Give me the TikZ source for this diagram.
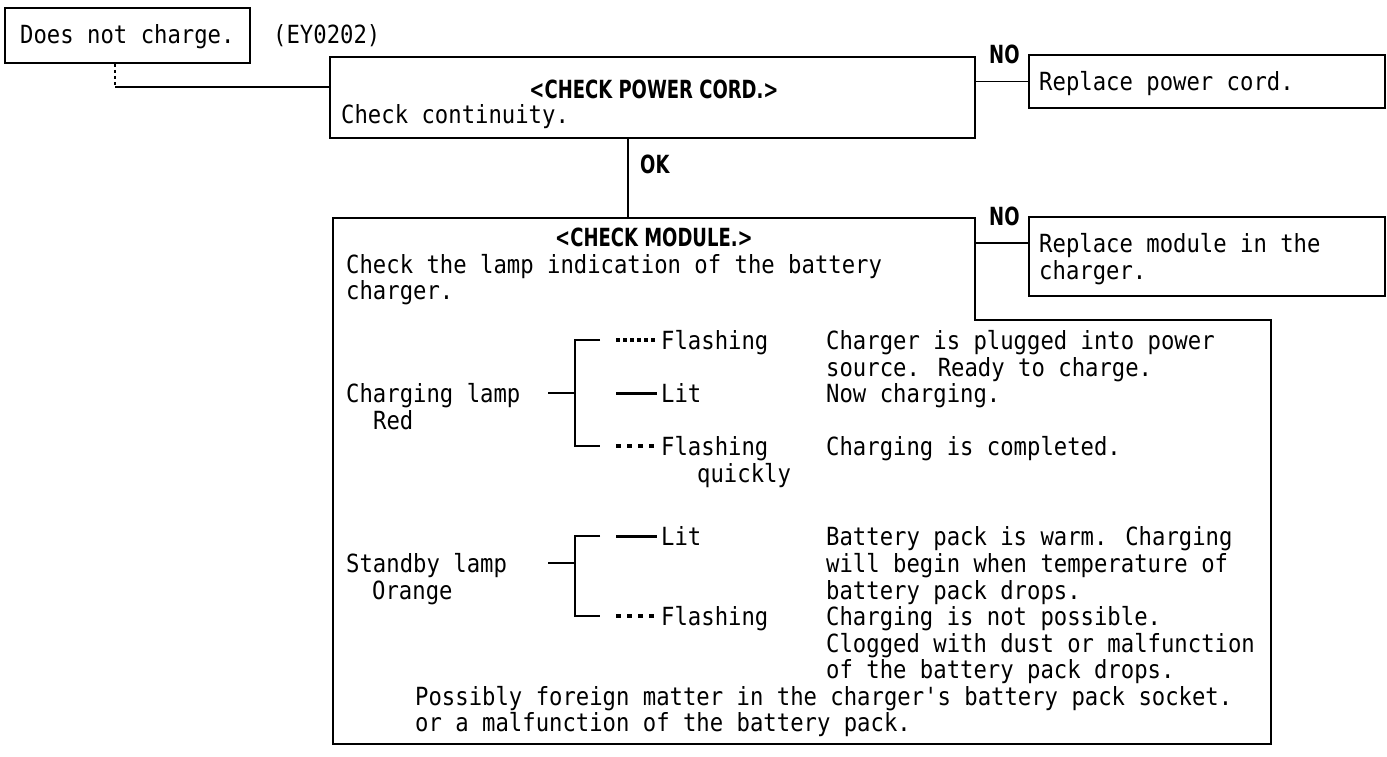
\documentclass[tikz,border=0pt]{standalone}
\usepackage{fontspec}
\newfontfamily\monofnt{DejaVu Sans Mono}[FakeStretch=0.89]
\newfontfamily\hdfont{DejaVu Sans}[FakeStretch=0.72]
\begin{document}
\begin{tikzpicture}[x=1pt,y=-1pt,
  every node/.style={inner sep=0pt, font=\monofnt\fontsize{25}{27}\selectfont},
  txt/.style={anchor=base west},
  hd/.style={anchor=base, font=\hdfont\bfseries\fontsize{25}{27}\selectfont},
  lbl/.style={anchor=base west, font=\hdfont\bfseries\fontsize{25}{27}\selectfont},
  box/.style={draw, line width=1.8pt},
  ln/.style={line width=1.6pt},
  brk/.style={line width=1.5pt},
  dotsA/.style={line width=3.5pt, dash pattern=on 4pt off 3pt},
  dotsB/.style={line width=3.5pt, dash pattern=on 5pt off 6pt},
  solid lamp/.style={line width=3pt},
]
\useasboundingbox (0,0) rectangle (1387,757);

% start box
\node[box, minimum width=245pt, minimum height=55pt] (b1) at (127.5,35.5) {};
\node[txt] (t1) at (20,44) {Does not charge.};
\node[txt] (ey) at (273,44) {(EY0202)};

% power cord check
\node[box, minimum width=645pt, minimum height=81pt] (pc) at (652.5,97.5) {};
\node[hd] (pct) at (654,99) {<CHECK POWER CORD.>};
\node[txt] (pcc) at (341,124) {Check continuity.};

\node[lbl] (no1) at (989,64) {NO};
\node[box, minimum width=356pt, minimum height=53pt] (rp) at (1207,81.5) {};
\node[txt] (rpt) at (1039,91) {Replace power cord.};

\node[lbl] (ok) at (640,174) {OK};

% module check outline
\coordinate (m1) at (333,218);
\coordinate (m2) at (975,218);
\coordinate (m3) at (975,320);
\coordinate (m4) at (1271,320);
\coordinate (m5) at (1271,744);
\coordinate (m6) at (333,744);
\draw[ln] (m1) -- (m2) -- (m3) -- (m4) -- (m5) -- (m6) -- cycle;

\node[lbl] (no2) at (989,225) {NO};
\node[box, minimum width=356pt, minimum height=79pt] (rm) at (1207,256.5) {};
\node[txt] (rm1) at (1039,252) {Replace module in the};
\node[txt] (rm2) at (1039,279) {charger.};

\node[hd] (mt) at (654,246) {<CHECK MODULE.>};
\node[txt] (mc1) at (346,273) {Check the lamp indication of the battery};
\node[txt] (mc2) at (346,299) {charger.};

% charging lamp
\node[txt] (cl1) at (346,402) {Charging lamp};
\node[txt] (cl2) at (373,429) {Red};
\node[txt] (f1) at (661,349) {Flashing};
\node[txt] (l1) at (661,402) {Lit};
\node[txt] (f2) at (661,455) {Flashing};
\node[txt] (q2) at (697,482) {quickly};
\node[txt] (d1a) at (826,349) {Charger is plugged into power};
\node[txt] (d1b) at (826,376) {source. Ready to charge.};
\node[txt] (d2) at (826,402) {Now charging.};
\node[txt] (d3) at (826,455) {Charging is completed.};

% standby lamp
\node[txt] (sl1) at (346,572) {Standby lamp};
\node[txt] (sl2) at (372,599) {Orange};
\node[txt] (l2) at (661,545) {Lit};
\node[txt] (f3) at (661,625) {Flashing};
\node[txt] (d4a) at (826,545) {Battery pack is warm. Charging};
\node[txt] (d4b) at (826,572) {will begin when temperature of};
\node[txt] (d4c) at (826,599) {battery pack drops.};
\node[txt] (d5a) at (826,625) {Charging is not possible.};
\node[txt] (d5b) at (826,652) {Clogged with dust or malfunction};
\node[txt] (d5c) at (826,678) {of the battery pack drops.};
\node[txt] (p1) at (415,705) {Possibly foreign matter in the charger's battery pack socket.};
\node[txt] (p2) at (415,731) {or a malfunction of the battery pack.};

% connectors
\coordinate (j1) at (115,87);
\draw[line width=1.2pt, dash pattern=on 3pt off 3pt] (b1.south -| j1) -- (j1);
\draw[ln] (j1) -- (j1 -| pc.west);
\draw[ln] (pc.east |- rp.west) -- (rp.west);
\coordinate (okx) at (628,0);
\draw[ln] (pc.south -| okx) -- (m1 -| okx);
\coordinate (n2) at (0,243);
\draw[ln] (m2 |- n2) -- (rm.west |- n2);

% charging lamp bracket
\coordinate (cbt) at (575,340);
\coordinate (cbb) at (575,446);
\coordinate (cbm) at (575,393);
\draw[brk] (600,340) -- (cbt) -- (cbb) -- (600,446);
\draw[brk] (548,393) -- (cbm);
\draw[dotsA] (616,340) -- (657,340);
\draw[solid lamp] (616,393) -- (657,393);
\draw[dotsB] (616,446) -- (657,446);

% standby lamp bracket
\coordinate (sbt) at (575,536);
\coordinate (sbb) at (575,616);
\coordinate (sbm) at (575,563);
\draw[brk] (600,536) -- (sbt) -- (sbb) -- (600,616);
\draw[brk] (548,563) -- (sbm);
\draw[solid lamp] (616,536) -- (657,536);
\draw[dotsB] (616,616) -- (657,616);
\end{tikzpicture}
\end{document}
